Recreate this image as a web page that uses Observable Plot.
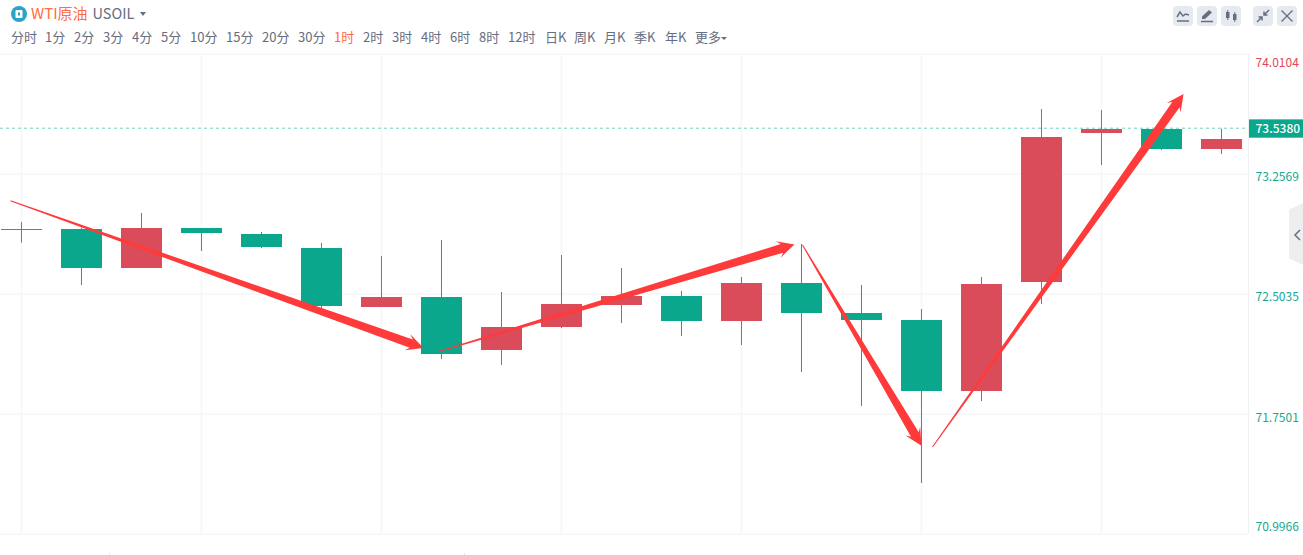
<!DOCTYPE html>
<html lang="zh">
<head>
<meta charset="utf-8">
<script src="https://cdn.jsdelivr.net/npm/d3@7"></script>
<script src="https://cdn.jsdelivr.net/npm/@observablehq/plot@0.6"></script>
<style>
html,body{margin:0;padding:0;background:#fff;overflow:hidden}
body{width:1303px;height:555px;position:relative;font-family:"Noto Sans CJK SC","Noto Sans",sans-serif;color:#666d7e}
#head{position:absolute;left:0;top:0;width:1303px;height:53px}
#logo{position:absolute;left:11px;top:6px;width:16px;height:16px}
#name{position:absolute;left:31px;top:2px;font-size:15px;line-height:22px;color:#ff6c3f;white-space:nowrap}
#sym{position:absolute;left:92.5px;top:2px;font-size:14.5px;line-height:22px;white-space:nowrap}
#caret{position:absolute;left:140px;top:12px;width:0;height:0;border-left:3.5px solid transparent;border-right:3.5px solid transparent;border-top:4px solid #666d7e}
.tab{position:absolute;top:28px;font-size:13px;line-height:18px;white-space:nowrap}
.tab.on{color:#ff6c3f}
.btn{position:absolute;top:6px;width:20px;height:20px;border-radius:4px;background:#e6e9ef}
.btn svg{display:block}
#chart{position:absolute;left:0;top:53px}
#side{position:absolute;left:1289px;top:203px;width:14px;height:62px;background:#eeeef1;clip-path:polygon(0 11%,100% 0,100% 100%,0 89%)}
#side svg{position:absolute;left:4px;top:25px}
.tm{position:absolute;top:553px;width:1px;height:2px;background:#e4e5e8}
</style>
</head>
<body>
<div id="head">
  <svg id="logo" viewBox="0 0 16 16"><circle cx="8" cy="8" r="8" fill="#2aa5c8"/><rect x="4.5" y="4" width="7" height="8" rx="1" fill="#fff"/><rect x="7" y="6.5" width="2" height="3" fill="#2aa5c8"/></svg>
  <div id="name"></div>
  <div id="sym"></div>
  <div id="caret"></div>
</div>
<div id="chart"></div>
<div id="side"><svg width="9" height="14" viewBox="0 0 9 14"><path d="M7 2 L2 7 L7 12" fill="none" stroke="#6b7283" stroke-width="1.6"/></svg></div>
<div class="tm" style="left:109px"></div>
<div class="tm" style="left:464px"></div>
<script>
const instrumentName = "WTI原油";
const instrumentCode = "USOIL";
const periods = ["分时","1分","2分","3分","4分","5分","10分","15分","20分","30分","1时","2时","3时","4时","6时","8时","12时","日K","周K","月K","季K","年K","更多"];
const activePeriod = "1时";

const candleIndex = d3.range(21);
const opens  = [72.9053,72.6667,72.6667,72.9179,72.7986,72.4282,72.4219,72.1268,72.1519,72.2963,72.4344,72.3340,72.3340,72.3842,72.3403,71.8945,71.8945,72.5788,73.5144,73.4139,73.4139];
const closes = [72.9116,72.9116,72.9179,72.8865,72.8802,72.7923,72.4847,72.4847,72.2963,72.4407,72.4909,72.4909,72.5726,72.5726,72.3842,72.3403,72.5663,73.4893,73.5395,73.5395,73.4767];
const highs  = [72.9556,72.9198,73.0121,72.9179,72.8928,72.8237,72.7421,72.8426,72.5161,72.7484,72.6667,72.5223,72.6102,72.8174,72.5600,72.4093,72.6102,73.6651,73.6588,73.5395,73.5414];
const lows   = [72.8256,72.5600,72.6667,72.7735,72.7923,72.4093,72.4219,72.0954,72.0577,72.2900,72.3214,72.2398,72.1833,72.0138,71.8003,71.3168,71.8317,72.4407,73.3135,73.4076,73.3825];
const isUp   = [true,false,true,false,false,false,true,false,true,true,true,false,true,false,false,false,true,true,true,false,true];

const gridPrices = [74.0104,73.2569,72.5035,71.7501,70.9966];
const gridCandles = [0,3,6,9,12,15,18];
const lastLine = 73.542;
const lastLabel = "73.5380";

const arrowStartX = [-0.183,6.95,13.017,15.183];
const arrowStartY = [73.0893,72.1425,72.8112,71.5429];
const arrowTipX   = [6.70,12.883,15.0,19.367];
const arrowTipY   = [72.1645,72.8137,71.5510,73.7593];

const red = "#db4c5a", green = "#0aa78c", arrowRed = "#fe3a3a";

document.getElementById("name").textContent = instrumentName;
document.getElementById("sym").textContent = instrumentCode;

const tabLeft = [11,45,74,103,132,161,190,226,262,298,334,363,392,421,450,479,508,545,574,604,634,665,695];
const headEl = document.getElementById("head");
periods.forEach((p,i)=>{
  const t=document.createElement("div");
  t.className="tab"+(p===activePeriod?" on":"");
  t.textContent=p; t.style.left=tabLeft[i]+"px"; headEl.appendChild(t);
});
const moreCaret=document.createElement("div");
moreCaret.style.cssText="position:absolute;left:721px;top:37px;width:0;height:0;border-left:3.5px solid transparent;border-right:3.5px solid transparent;border-top:3.5px solid #666d7e";
headEl.appendChild(moreCaret);

const icons = [
 [1173,'<path d="M4 11 L7 6 L10 10 L12.5 8 L16 9" fill="none" stroke="#666d7e" stroke-width="1.5"/><path d="M4 15h12" stroke="#666d7e" stroke-width="1.5"/>'],
 [1197,'<path d="M5 13 L5 10.5 L12 4 L15 6.5 L8 13 Z" fill="#666d7e"/><path d="M4 15.5h12" stroke="#666d7e" stroke-width="1.5"/>'],
 [1221,'<rect x="5" y="6" width="3.5" height="6" fill="#666d7e"/><path d="M6.75 4v10M13.75 6v10" stroke="#666d7e"/><rect x="12" y="8" width="3.5" height="6" fill="#666d7e"/>'],
 [1253,'<path d="M16 4 L11.5 8.5 M11 5.5 V9 H14.5" fill="none" stroke="#666d7e" stroke-width="1.5"/><path d="M4 16 L8.5 11.5 M5.5 11 H9 V14.5" fill="none" stroke="#666d7e" stroke-width="1.5"/>'],
 [1277,'<path d="M4.5 4.5 L15.5 15.5 M15.5 4.5 L4.5 15.5" stroke="#666d7e" stroke-width="1.3"/>']
];
icons.forEach(([l,s])=>{
  const b=document.createElement("div"); b.className="btn"; b.style.left=l+"px";
  b.innerHTML='<svg width="20" height="20" viewBox="0 0 20 20">'+s+'</svg>';
  headEl.appendChild(b);
});

const candles = candleIndex.map(i=>({i,open:opens[i],close:closes[i],high:highs[i],low:lows[i],up:isUp[i]}));
const halfBody = 0.3417;
const xMin = -0.3583, xMax = 20.4417, xEdge = 21.3583, xTagStart = 20.4584;

const arrows = (index, scales) => {
  const g = d3.create("svg:g");
  arrowStartX.forEach((_,k)=>{
    const sx=scales.x(arrowStartX[k]), sy=scales.y(arrowStartY[k]);
    const tx=scales.x(arrowTipX[k]),  ty=scales.y(arrowTipY[k]);
    const L=Math.hypot(tx-sx,ty-sy), ux=(tx-sx)/L, uy=(ty-sy)/L, nx=-uy, ny=ux;
    const at=(back,side)=>[tx-ux*back+nx*side, ty-uy*back+ny*side];
    const tail=[sx+nx*0.5,sy+ny*0.5], tail2=[sx-nx*0.5,sy-ny*0.5];
    const pts=[tail,at(13,4.5),at(17,8.5),[tx,ty],at(17,-8.5),at(13,-4.5),tail2];
    g.append("polygon").attr("points",pts.map(p=>p.join(",")).join(" ")).attr("fill",arrowRed);
  });
  return g.node();
};

const plot = Plot.plot({
  width:1303, height:502,
  marginLeft:0, marginRight:55, marginTop:1, marginBottom:21,
  x:{domain:[xMin,xMax],axis:null},
  y:{domain:[70.9966,74.0104],axis:null},
  style:{background:"transparent",fontFamily:'"Noto Sans CJK SC","Noto Sans",sans-serif'},
  marks:[
    Plot.ruleY(gridPrices,{stroke:"#f5f6f9",strokeWidth:1.5,dy:-0.5}),
    Plot.ruleX(gridCandles,{stroke:"#f5f6f9",strokeWidth:1.5,dx:-0.5}),
    Plot.ruleX([xMax],{stroke:"#eff0f3",strokeWidth:1}),
    Plot.ruleY([lastLine],{stroke:"#6fd3bf",strokeWidth:1,strokeDasharray:"3 3",dy:-0.9}),
    Plot.ruleX(candles,{x:"i",y1:"low",y2:"high",stroke:d=>d.up?red:green,strokeWidth:1,dx:-0.5}),
    Plot.rect(candles,{x1:d=>d.i-halfBody,x2:d=>d.i+halfBody,y1:"open",y2:"close",fill:d=>d.up?red:green}),
    Plot.text([gridPrices[0]],{x:xMax,y:d=>d,text:d=>d.toFixed(4),textAnchor:"start",dx:7,dy:9,fontSize:12,fill:"#e0475a"}),
    Plot.text(gridPrices.slice(1,3),{x:xMax,y:d=>d,text:d=>d.toFixed(4),textAnchor:"start",dx:7,dy:3,fontSize:12,fill:"#14a98f"}),
    Plot.text([gridPrices[3]],{x:xMax,y:d=>d,text:d=>d.toFixed(4),textAnchor:"start",dx:7,dy:4,fontSize:12,fill:"#14a98f"}),
    Plot.text([gridPrices[4]],{x:xMax,y:d=>d,text:d=>d.toFixed(4),textAnchor:"start",dx:7,dy:-7,fontSize:12,fill:"#14a98f"}),
    Plot.rect([lastLine],{x1:xTagStart,x2:xEdge,y1:d=>d+0.0580,y2:d=>d-0.0570,fill:green,clip:false}),
    Plot.text([lastLine],{x:xMax,y:d=>d,text:()=>lastLabel,textAnchor:"start",dx:7,dy:0.5,fontSize:12,fontWeight:500,fill:"#fff"}),
    arrows
  ]
});
document.getElementById("chart").appendChild(plot);
</script>
</body>
</html>
